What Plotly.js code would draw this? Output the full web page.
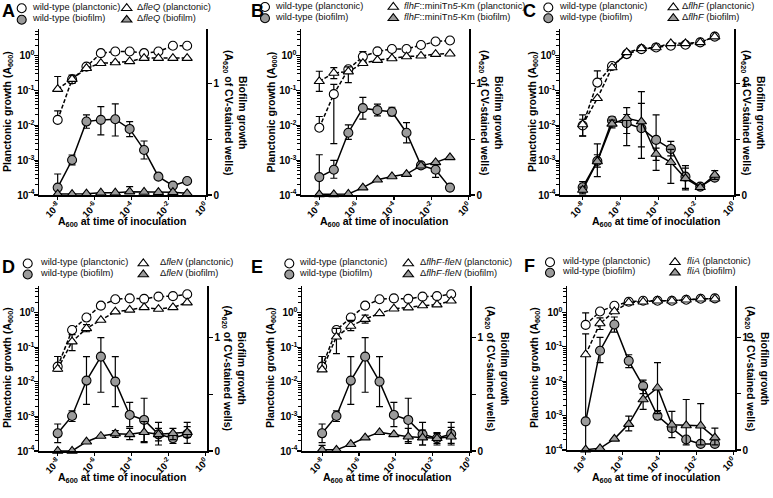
<!DOCTYPE html>
<html><head><meta charset="utf-8">
<script src="https://cdn.plot.ly/plotly-3.0.1.min.js"></script>
<style>html,body{margin:0;padding:0;background:#fff;}#chart{width:773px;height:498px;}</style>
</head><body><div id="chart"></div>
<script>
// ---------- shared x values and tick labels ----------
const inoculumA600 = [1e-8, 6e-8, 3.6e-7, 2.16e-6, 1.3e-5, 7.8e-5, 4.7e-4, 2.8e-3, 1.7e-2, 1.0e-1];
const xTickVals = [1e-8, 1e-6, 1e-4, 1e-2, 1];
const xTickText = ['10<sup>-8</sup>', '10<sup>-6</sup>', '10<sup>-4</sup>', '10<sup>-2</sup>', '10<sup>0</sup>'];
const yTickVals = [1e-4, 1e-3, 1e-2, 1e-1, 1];
const yTickText = ['10<sup>-4</sup>', '10<sup>-3</sup>', '10<sup>-2</sup>', '10<sup>-1</sup>', '10<sup>0</sup>'];
const y2TickVals = [0, 0.5, 1];
const y2TickText = ['0', '', '1'];
const panelLetters = ['A', 'B', 'C', 'D', 'E', 'F'];
const mutantNames = ['Δ<i>fleQ</i>', '<i>flhF</i>::miniTn<i>5</i>-Km', 'Δ<i>flhF</i>', 'Δ<i>fleN</i>', 'Δ<i>flhF-fleN</i>', '<i>fliA</i>'];

// ---------- Panel A ----------
const wtPlancA    = [0.0144, 0.21, 0.49, 1.19, 1.33, 1.33, 1.19, 1.33, 1.94, 1.94];
const wtPlancA_hi = [0.026, null, null, null, null, null, null, null, null, null];
const wtPlancA_lo = [null, null, null, null, null, null, null, null, null, null];
const mutPlancA    = [0.11, 0.213, 0.44, 0.61, 0.64, 0.69, 0.86, 0.86, 0.86, 0.86];
const mutPlancA_hi = [0.254, 0.28, null, null, null, null, null, null, null, null];
const mutPlancA_lo = [null, 0.16, null, null, null, null, null, null, null, null];
const wtBioA    = [0.066, 0.313, 0.657, 0.672, 0.678, 0.591, 0.403, 0.164, 0.084, 0.125];
const wtBioA_hi = [0.188, 0.358, 0.716, 0.791, 0.815, 0.657, 0.483, null, null, null];
const wtBioA_lo = [0, 0.269, 0.597, 0.537, 0.528, 0.522, 0.322, null, null, null];
const mutBioA    = [0.008, 0.008, 0.012, 0.02, 0.02, 0.03, 0.027, 0.025, 0.025, 0.015];
const mutBioA_hi = [null, null, null, null, null, 0.075, null, null, null, null];
const mutBioA_lo = [null, null, null, null, null, null, null, null, null, null];

// ---------- Panel B ----------
const wtPlancB    = [0.0086, 0.079, 0.41, 0.95, 1.34, 1.57, 1.57, 2.05, 2.57, 2.75];
const wtPlancB_hi = [0.018, 0.15, null, 1.31, null, null, null, null, null, null];
const wtPlancB_lo = [null, 0.003, null, 0.7, null, null, null, null, null, null];
const mutPlancB    = [0.185, 0.32, 0.35, 0.61, 0.75, 0.84, 0.95, 1.0, 1.12, 1.15];
const mutPlancB_hi = [0.36, 0.46, 0.48, null, null, null, null, null, null, null];
const mutPlancB_lo = [0.095, 0.22, 0.17, null, null, null, null, null, null, null];
const wtBioB    = [0.16, 0.226, 0.557, 0.777, 0.759, 0.744, 0.557, 0.265, 0.226, 0.066];
const wtBioB_hi = [0.36, 0.31, 0.627, 0.873, 0.813, 0.785, 0.648, 0.286, 0.271, null];
const wtBioB_lo = [0, 0.15, 0.497, 0.678, 0.708, 0.708, 0.467, 0.241, 0.157, null];
const mutBioB    = [0.006, 0.006, 0.009, 0.066, 0.136, 0.166, 0.187, 0.262, 0.292, 0.337];
const mutBioB_hi = [null, null, null, null, null, null, null, null, null, null];
const mutBioB_lo = [null, null, null, null, null, null, null, null, null, null];

// ---------- Panel C ----------
const wtPlancC    = [0.0099, 0.17, 0.51, 1.12, 1.55, 1.74, 1.95, 2.08, 2.43, 3.55];
const wtPlancC_hi = [0.02, 0.37, null, null, null, null, null, null, null, null];
const wtPlancC_lo = [0.005, null, null, null, null, null, null, null, null, null];
const mutPlancC    = [0.0106, 0.06, 0.46, 1.25, 1.63, 1.74, 2.28, 2.28, 2.43, 3.55];
const mutPlancC_hi = [0.015, null, null, null, null, null, null, null, null, null];
const mutPlancC_lo = [0.0049, null, null, null, null, null, null, null, null, null];
const wtBioC    = [0.069, 0.304, 0.666, 0.642, 0.597, 0.493, 0.412, 0.164, 0.075, 0.155];
const wtBioC_hi = [0.12, 0.36, 0.7, 0.72, 0.82, 0.716, 0.48, 0.263, null, null];
const wtBioC_lo = [0.02, 0.25, 0.62, 0.55, 0.43, 0.22, 0.35, 0.045, null, null];
const mutBioC    = [0.045, 0.3, 0.636, 0.687, 0.657, 0.367, 0.293, 0.149, 0.069, 0.179];
const mutBioC_hi = [0.07, 0.457, 0.67, 0.782, 0.925, 0.42, 0.409, 0.24, 0.09, 0.218];
const mutBioC_lo = [0.01, 0.164, 0.6, 0.442, 0.328, 0.31, 0.104, 0.06, 0.05, 0.14];

// ---------- Panel D ----------
const wtPlancD    = [0.0275, 0.315, 0.72, 1.59, 2.43, 2.58, 2.5, 2.9, 3.0, 3.4];
const wtPlancD_hi = [0.054, null, 0.8, null, null, null, null, null, null, null];
const wtPlancD_lo = [0.02, null, 0.6, null, null, null, null, null, null, null];
const mutPlancD    = [0.0235, 0.145, 0.35, 0.61, 1.07, 1.2, 1.42, 1.27, 1.42, 1.95];
const mutPlancD_hi = [0.054, 0.23, 0.45, null, null, null, null, null, null, null];
const mutPlancD_lo = [0.02, 0.08, 0.28, null, null, null, null, null, null, null];
const wtBioD    = [0.156, 0.309, 0.621, 0.832, 0.612, 0.318, 0.274, 0.147, 0.112, 0.15];
const wtBioD_hi = [0.238, 0.353, 0.832, 1.0, 0.832, 0.429, 0.465, 0.253, 0.156, 0.253];
const wtBioD_lo = [0.074, 0.26, 0.412, 0.518, 0.391, 0.215, 0.082, 0.053, 0.068, 0.068];
const mutBioD    = [0, 0, 0.082, 0.132, 0.153, 0.147, 0.165, 0.147, 0.156, 0.165];
const mutBioD_hi = [null, null, null, null, 0.18, 0.2, 0.26, 0.2, 0.2, 0.215];
const mutBioD_lo = [null, null, null, null, 0.12, 0.1, 0.074, 0.09, 0.1, 0.12];

// ---------- Panel E ----------
const wtPlancE    = [0.0275, 0.315, 0.72, 1.59, 2.43, 2.58, 2.5, 2.9, 3.0, 3.4];
const wtPlancE_hi = [0.054, null, 0.8, null, null, null, null, null, null, null];
const wtPlancE_lo = [0.02, null, 0.6, null, null, null, null, null, null, null];
const mutPlancE    = [0.0225, 0.2, 0.41, 0.65, 0.95, 1.3, 1.4, 1.6, 1.7, 2.2];
const mutPlancE_hi = [0.054, 0.35, 0.6, 0.85, null, null, null, null, null, null];
const mutPlancE_lo = [0.02, 0.065, 0.3, 0.5, null, null, null, null, null, null];
const wtBioE    = [0.156, 0.309, 0.621, 0.832, 0.612, 0.318, 0.274, 0.147, 0.112, 0.15];
const wtBioE_hi = [0.238, 0.353, 0.832, 1.0, 0.832, 0.429, 0.465, 0.253, 0.156, 0.253];
const wtBioE_lo = [0.074, 0.26, 0.412, 0.518, 0.391, 0.215, 0.082, 0.053, 0.068, 0.068];
const mutBioE    = [0.01, 0.01, 0.06, 0.118, 0.165, 0.147, 0.126, 0.118, 0.112, 0.126];
const mutBioE_hi = [0.05, null, null, null, null, null, 0.2, 0.185, 0.162, 0.209];
const mutBioE_lo = [0, null, null, null, null, null, 0.068, 0.053, 0.053, 0.053];

// ---------- Panel F ----------
const wtPlancF    = [0.435, 1.07, 1.57, 2.05, 2.2, 2.2, 2.2, 2.35, 2.5, 2.57];
const wtPlancF_hi = [0.97, null, null, null, null, null, null, null, null, null];
const wtPlancF_lo = [null, null, null, null, null, null, null, null, null, null];
const mutPlancF    = [0.06, 0.48, 1.07, 1.95, 2.05, 2.2, 2.2, 2.35, 2.5, 2.5];
const mutPlancF_hi = [0.24, 0.7, null, null, null, null, null, null, null, null];
const mutPlancF_lo = [-1, 0.32, null, null, null, null, null, null, null, null];
const wtBioF    = [0.254, 0.881, 1.113, 0.791, 0.567, 0.304, 0.194, 0.093, 0.054, 0.054];
const wtBioF_hi = [null, 1.0, 1.18, 0.845, 0.62, 0.35, null, null, null, null];
const wtBioF_lo = [null, 0.776, 1.045, 0.731, 0.5, 0.27, null, null, null, null];
const mutBioF    = [0.003, 0.015, 0.099, 0.23, 0.448, 0.552, 0.224, 0.218, 0.215, 0.11];
const mutBioF_hi = [null, null, null, 0.3, 0.537, 0.776, 0.343, 0.448, 0.412, 0.194];
const mutBioF_lo = [null, null, null, 0.17, 0.36, 0.322, 0.11, 0.045, 0.045, 0.045];

// ---------- assemble ----------
const panelData = [
  [wtPlancA, wtPlancA_hi, wtPlancA_lo, mutPlancA, mutPlancA_hi, mutPlancA_lo, wtBioA, wtBioA_hi, wtBioA_lo, mutBioA, mutBioA_hi, mutBioA_lo],
  [wtPlancB, wtPlancB_hi, wtPlancB_lo, mutPlancB, mutPlancB_hi, mutPlancB_lo, wtBioB, wtBioB_hi, wtBioB_lo, mutBioB, mutBioB_hi, mutBioB_lo],
  [wtPlancC, wtPlancC_hi, wtPlancC_lo, mutPlancC, mutPlancC_hi, mutPlancC_lo, wtBioC, wtBioC_hi, wtBioC_lo, mutBioC, mutBioC_hi, mutBioC_lo],
  [wtPlancD, wtPlancD_hi, wtPlancD_lo, mutPlancD, mutPlancD_hi, mutPlancD_lo, wtBioD, wtBioD_hi, wtBioD_lo, mutBioD, mutBioD_hi, mutBioD_lo],
  [wtPlancE, wtPlancE_hi, wtPlancE_lo, mutPlancE, mutPlancE_hi, mutPlancE_lo, wtBioE, wtBioE_hi, wtBioE_lo, mutBioE, mutBioE_hi, mutBioE_lo],
  [wtPlancF, wtPlancF_hi, wtPlancF_lo, mutPlancF, mutPlancF_hi, mutPlancF_lo, wtBioF, wtBioF_hi, wtBioF_lo, mutBioF, mutBioF_hi, mutBioF_lo]
];

// geometry in page pixels (S = legend symbol centres, T = legend text starts, r = legend row centres)
const W = 773, H = 498;
const geom = [
  {x0: 39,  x1: 206, y0: 29,  y1: 195, xr: [-9.01, 0.02], y2r: 1.485, letter: [8, 11],   ylt: [8, 112],   yrt: [235, 112], xt: [122, 222], S1: 21.7, S2: 126.7, T1: 30,    T2: 135,   r1: 6.7, r2: 18.3},
  {x0: 301, x1: 469, y0: 29,  y1: 195, xr: [-8.98, 0.02], y2r: 1.485, letter: [257, 11], ylt: [271.5, 112], yrt: [491, 112], xt: [384, 222], S1: 265, S2: 393.3, T1: 273.3, T2: 401.7, r1: 5.5, r2: 16.7},
  {x0: 560, x1: 734, y0: 29,  y1: 195, xr: [-9.2, 0.02],  y2r: 1.485, letter: [529, 11], ylt: [533, 112], yrt: [753, 112], xt: [656, 222], S1: 548.3, S2: 673.3, T1: 556.7, T2: 680,  r1: 6,   r2: 16.7},
  {x0: 39,  x1: 207, y0: 286, y1: 451, xr: [-9.01, 0.07], y2r: 1.455, letter: [8, 267],  ylt: [8, 368],   yrt: [233.5, 368], xt: [122, 478], S1: 27.7, S2: 143.3, T1: 38.3, T2: 158.3, r1: 262, r2: 273},
  {x0: 302, x1: 470, y0: 286, y1: 451, xr: [-9.09, 0.02], y2r: 1.455, letter: [257, 267], ylt: [271, 368], yrt: [497, 368], xt: [387, 478], S1: 289.3, S2: 408.3, T1: 296.7, T2: 418.3, r1: 262, r2: 273},
  {x0: 567, x1: 735, y0: 286, y1: 450, xr: [-9.01, 0.09], y2r: 1.455, letter: [529, 266], ylt: [535, 368], yrt: [757, 368], xt: [656, 478], S1: 550, S2: 675, T1: 560, T2: 685, r1: 260.7, r2: 271.3}
];

const FONT = 'Liberation Sans, Arial, Helvetica, sans-serif';
const GRAY = '#9b9b9b';

function errBars(y, hi, lo) {
  return {
    type: 'data', symmetric: false, visible: true,
    array: y.map((v, i) => hi[i] == null ? 0 : hi[i] - v),
    arrayminus: y.map((v, i) => lo[i] == null ? 0 : v - lo[i]),
    color: '#000', thickness: 1.2, width: 3.5
  };
}

const traces = [];
const legendProxies = [];
const layout = {
  width: W, height: H,
  margin: {l: 0, r: 0, t: 0, b: 0, autoexpand: false},
  paper_bgcolor: '#fff', plot_bgcolor: 'rgba(0,0,0,0)',
  font: {family: FONT, color: '#000', size: 10},
  showlegend: true,
  annotations: []
};

geom.forEach((g, k) => {
  const n = k + 1;
  const xa = n === 1 ? 'x' : 'x' + n;
  const yl = 2 * n - 1 === 1 ? 'y' : 'y' + (2 * n - 1);
  const yr = 'y' + (2 * n);
  const leg1 = 2 * n - 1 === 1 ? 'legend' : 'legend' + (2 * n - 1);
  const leg2 = 'legend' + (2 * n);
  const d = panelData[k];
  const mut = mutantNames[k];

  const ann = (px, py, text, opts) => Object.assign({
    xref: 'paper', yref: 'paper', x: px / W, y: 1 - py / H, text: text,
    showarrow: false, xanchor: 'center', yanchor: 'middle',
    font: {family: FONT, size: 10.5, color: '#000', weight: 'bold'}
  }, opts || {});
  const legFont = {family: FONT, size: 9.3, color: '#111'};

  const styles = [
    {name: 'wild-type (planctonic)', ax: yl, dash: '4px,2px', sym: 'circle', fill: '#fff', leg: leg1, tx: g.T1, ty: g.r1},
    {name: mut + ' (planctonic)', ax: yl, dash: '4px,2px', sym: 'triangle-up', fill: '#fff', leg: leg1, tx: g.T2, ty: g.r1},
    {name: 'wild-type (biofilm)', ax: yr, dash: 'solid', sym: 'circle', fill: GRAY, leg: leg2, tx: g.T1, ty: g.r2},
    {name: mut + ' (biofilm)', ax: yr, dash: 'solid', sym: 'triangle-up', fill: GRAY, leg: leg2, tx: g.T2, ty: g.r2}
  ];
  styles.forEach((s, j) => {
    const y = d[3 * j], hi = d[3 * j + 1], lo = d[3 * j + 2];
    traces.push({
      x: inoculumA600, y: y, xaxis: xa, yaxis: s.ax, mode: 'lines+markers',
      name: s.name, showlegend: false,
      line: {color: '#000', width: 1.5, dash: s.dash},
      marker: {symbol: s.sym, size: 9, color: s.fill, line: {color: '#000', width: 1.1}},
      error_y: errBars(y, hi, lo), cliponaxis: false
    });
    // legend symbol only; its label is placed as a text annotation
    legendProxies.push({
      x: [null], y: [null], xaxis: xa, yaxis: s.ax, mode: 'markers',
      name: '', legend: s.leg, showlegend: true,
      marker: {symbol: s.sym, size: 9, color: s.fill, line: {color: '#000', width: 1.1}}
    });
    layout.annotations.push(ann(s.tx, s.ty, s.name, {xanchor: 'left', font: legFont}));
  });

  const xdom = [g.x0 / W, g.x1 / W];
  const ydom = [1 - g.y1 / H, 1 - g.y0 / H];
  const axCommon = {
    showline: true, linecolor: '#000', linewidth: 1.5, mirror: false,
    ticks: 'outside', ticklen: 4, tickwidth: 1.2, tickcolor: '#000',
    showgrid: false, zeroline: false,
    tickfont: {family: FONT, size: 10, color: '#000', weight: 'bold'}
  };
  layout[n === 1 ? 'xaxis' : 'xaxis' + n] = Object.assign({}, axCommon, {
    type: 'log', domain: xdom, range: g.xr, anchor: yl,
    tickmode: 'array', tickvals: xTickVals, ticktext: xTickText, tickangle: -45,
    ticklen: 3, ticklabelstandoff: -3,
    tickfont: {family: FONT, size: 9.5, color: '#000', weight: 'bold'}
  });
  layout[2 * n - 1 === 1 ? 'yaxis' : 'yaxis' + (2 * n - 1)] = Object.assign({}, axCommon, {
    type: 'log', domain: ydom, range: [-4, 0.77], anchor: xa,
    tickmode: 'array', tickvals: yTickVals, ticktext: yTickText, ticklabelstandoff: -3,
    minor: {ticks: 'outside', ticklen: 2.5, tickwidth: 1, tickcolor: '#000', dtick: 'D1', showgrid: false}
  });
  layout['yaxis' + (2 * n)] = Object.assign({}, axCommon, {
    type: 'linear', domain: ydom, range: [0, g.y2r], anchor: xa, overlaying: yl, side: 'right',
    tickmode: 'array', tickvals: y2TickVals, ticktext: y2TickText
  });

  const legCommon = {
    orientation: 'h', xanchor: 'left', yanchor: 'top', entrywidthmode: 'pixels',
    entrywidth: g.S2 - g.S1 - 45, bgcolor: 'rgba(0,0,0,0)', borderwidth: 0,
    font: legFont, traceorder: 'normal', itemclick: false
  };
  layout[leg1] = Object.assign({}, legCommon, {x: (g.S1 - 20) / W, y: 1 - (g.r1 - 13) / H});
  layout[leg2] = Object.assign({}, legCommon, {x: (g.S1 - 20) / W, y: 1 - (g.r2 - 13) / H});

  layout.annotations.push(ann(g.letter[0], g.letter[1], panelLetters[k], {font: {family: FONT, size: 18, color: '#000', weight: 'bold'}}));
  layout.annotations.push(ann(g.ylt[0], g.ylt[1], 'Planctonic growth (A<sub>600</sub>)', {textangle: -90}));
  layout.annotations.push(ann(g.yrt[0], g.yrt[1], 'Biofilm growth<br>(A<sub>620</sub> of CV-stained wells)', {textangle: 90}));
  layout.annotations.push(ann(g.xt[0], g.xt[1], 'A<sub>600</sub> at time of inoculation'));
});

Plotly.newPlot('chart', traces.concat(legendProxies), layout, {staticPlot: true, displayModeBar: false});
</script>
</body></html>
